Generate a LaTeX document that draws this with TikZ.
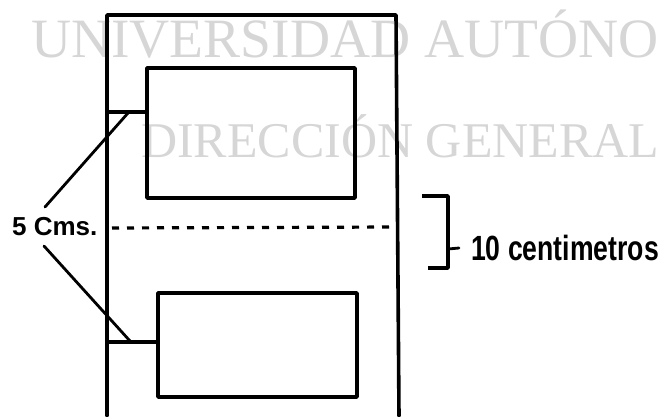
\documentclass[tikz,border=0pt]{standalone}
\usepackage{fontspec}
\setmainfont{Liberation Serif}
\newfontfamily\labelfont{Liberation Sans}
\usepackage{graphicx}
\definecolor{wm}{RGB}{214,214,214}
\begin{document}
\begin{tikzpicture}[x=1pt,y=-1pt,line join=round,line cap=round,
  edge/.style={line width=3.6pt},
  leader/.style={line width=2.8pt},
  boxstyle/.style={draw,line width=3.6pt,inner sep=0pt,minimum width=#1},
  wmtext/.style={inner sep=0pt,anchor=base west,text=wm},
  lbl/.style={inner sep=0pt,anchor=base west}]
\useasboundingbox (0,0) rectangle (664,416);
% watermark
\node[wmtext,font=\fontsize{55.5}{60}\selectfont] (wm1) at (31,57) {UNIVERSIDAD AUTÓNO};
\node[wmtext,font=\fontsize{50}{56}\selectfont] (wm2) at (141,157) {DIRECCIÓN GENERAL};
% outer frame
\draw[edge] (107,416) -- (107,15) -- (396,15) -- (399,416);
% inner boxes
\node[boxstyle=208pt,minimum height=130pt] (topbox) at (251,133) {};
\node[boxstyle=199pt,minimum height=104pt] (botbox) at (257.5,345) {};
% stubs
\coordinate (s1) at (107,112);
\coordinate (s2) at (109,342);
\draw[edge] (s1) -- (s1 -| topbox.west);
\draw[edge] (s2) -- (s2 -| botbox.west);
% dotted line
\coordinate (d1) at (112,228);
\coordinate (d2) at (395,227);
\draw[line width=3.2pt,line cap=butt,dash pattern=on 7pt off 8pt] (d1) -- (d2);
% labels
\node[lbl,font=\labelfont\bfseries\fontsize{26}{28}\selectfont] (cms) at (12,235) {5 Cms.};
\node[lbl,font=\labelfont\bfseries\fontsize{35}{38}\selectfont] (diez) at (471,260) {\scalebox{0.76}[1]{10 centimetros}};
% leaders
\coordinate (u1) at (45,207);
\coordinate (u2) at (128,113);
\coordinate (l1) at (44,246);
\coordinate (l2) at (130,341);
\draw[leader] (u1) -- (u2);
\draw[leader] (l1) -- (l2);
% bracket
\coordinate (b1) at (422,196);
\coordinate (b2) at (448,196);
\coordinate (b3) at (448,268);
\coordinate (b4) at (428,268);
\draw[edge,line cap=butt] (b1) -- (b2) -- (b3) -- (b4);
\coordinate (t1) at (448,249);
\coordinate (t2) at (459,248);
\draw[leader] (t1) -- (t2);
\end{tikzpicture}
\end{document}
